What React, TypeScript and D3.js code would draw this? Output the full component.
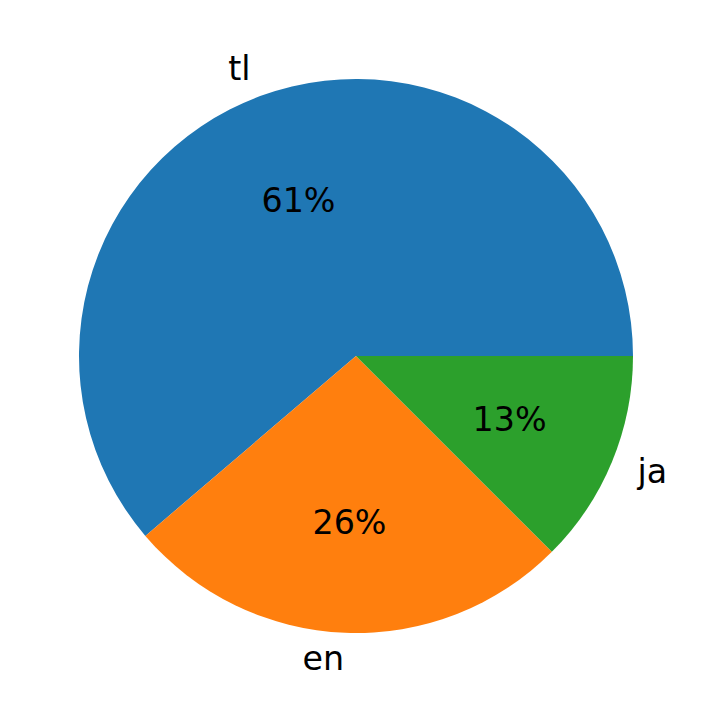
import { useRef, useEffect } from 'react';
import * as d3 from 'd3';

// Pie data (matplotlib-style: starts at 3 o'clock, goes counter-clockwise)
const labels = ["tl", "en", "ja"];
const counts = [49, 21, 10];
const colors = ["#1f77b4", "#ff7f0e", "#2ca02c"];

export default function App() {
  const ref = useRef<SVGSVGElement>(null);

  useEffect(() => {
    if (!ref.current) return;
    const width = 712;
    const height = 713;
    const cx = 356;
    const cy = 356;
    const radius = 277;
    const fontSize = 33.3;

    const svg = d3.select(ref.current)
      .attr('width', width)
      .attr('height', height);
    svg.selectAll("*").remove();

    const data = labels.map((l, i) => ({ label: l, value: counts[i], color: colors[i] }));
    const total = d3.sum(counts);

    // d3 angles: 0 at 12 o'clock, clockwise. Convert from matplotlib's CCW from 3 o'clock.
    const pie = d3.pie<typeof data[0]>()
      .value(d => d.value)
      .sort(null)
      .startAngle(Math.PI / 2)
      .endAngle(Math.PI / 2 - 2 * Math.PI);

    const arcs = pie(data);
    const arc = d3.arc<d3.PieArcDatum<typeof data[0]>>()
      .innerRadius(0)
      .outerRadius(radius);

    const g = svg.append("g").attr("transform", `translate(${cx},${cy})`);

    g.selectAll("path")
      .data(arcs)
      .join("path")
      .attr("d", arc)
      .attr("fill", d => d.data.color);

    const pos = (d: d3.PieArcDatum<typeof data[0]>, k: number) => {
      const a = (d.startAngle + d.endAngle) / 2;
      return [Math.sin(a) * radius * k, -Math.cos(a) * radius * k];
    };

    // Percent labels
    g.selectAll(".pct")
      .data(arcs)
      .join("text")
      .attr("class", "pct")
      .attr("x", d => pos(d, 0.6)[0])
      .attr("y", d => pos(d, 0.6)[1])
      .attr("text-anchor", "middle")
      .attr("dominant-baseline", "central")
      .style("font-family", "DejaVu Sans")
      .style("font-size", `${fontSize}px`)
      .attr("fill", "#000")
      .text(d => `${Math.round(d.data.value / total * 100)}%`);

    // Category labels
    g.selectAll(".lbl")
      .data(arcs)
      .join("text")
      .attr("class", "lbl")
      .attr("x", d => pos(d, 1.1)[0])
      .attr("y", d => pos(d, 1.1)[1] - 1.5)
      .attr("text-anchor", d => pos(d, 1.1)[0] < 0 ? "end" : "start")
      .attr("dominant-baseline", "central")
      .style("font-family", "DejaVu Sans")
      .style("font-size", `${fontSize}px`)
      .attr("fill", "#000")
      .text(d => d.data.label);
  }, []);

  return (
    <div style={{ margin: -8 }}>
      <svg ref={ref} style={{ display: 'block', background: '#fff' }}></svg>
    </div>
  );
}
